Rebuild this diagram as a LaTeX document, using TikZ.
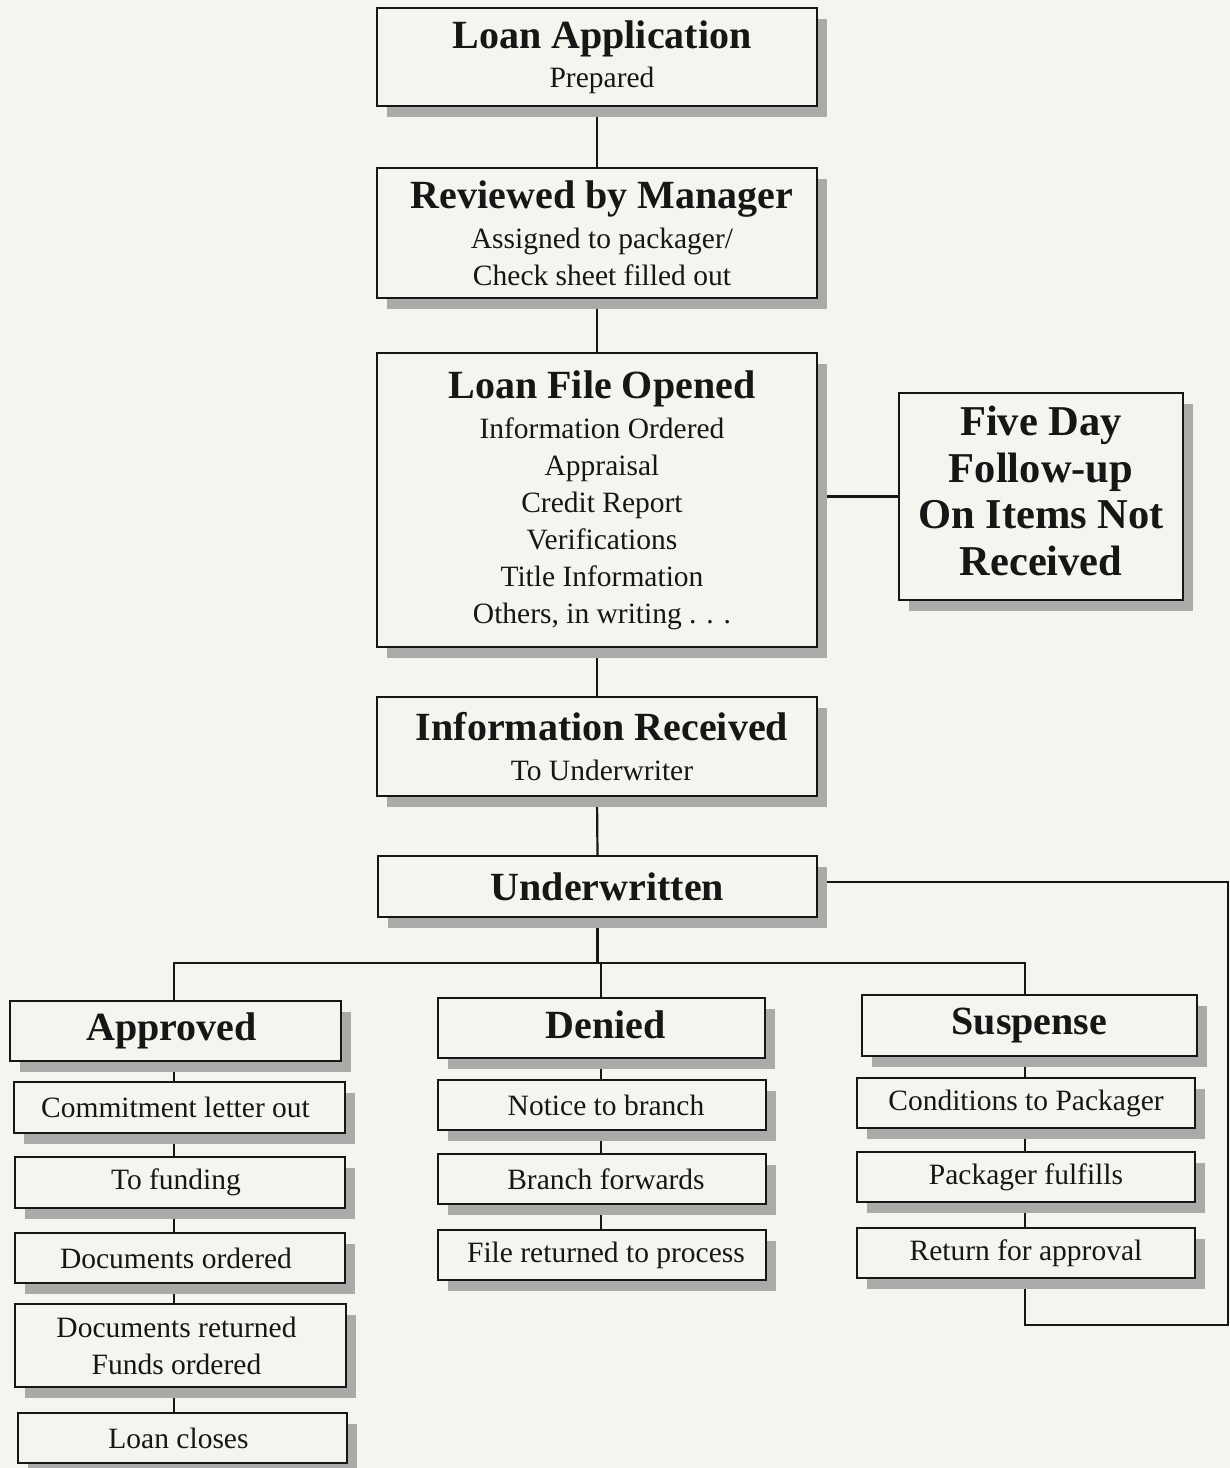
\documentclass[tikz,border=0pt]{standalone}
\usepackage{fontspec}
\setmainfont{Liberation Serif}
\usetikzlibrary{shadows}
\definecolor{bgc}{RGB}{246,244,238}
\definecolor{shd}{RGB}{170,170,168}
\definecolor{ink}{RGB}{22,22,22}
\newcommand\hdfont{\fontsize{40}{45}\selectfont\bfseries}
\newcommand\bdfont{\fontsize{29.5}{37}\selectfont}
\newcommand\rs{\hspace*{10pt}}
\newcommand\ls{\hspace*{8pt}}
\pgfdeclarelayer{paper}
\pgfdeclarelayer{lines}
\pgfsetlayers{paper,lines,main}
\begin{document}
\begin{tikzpicture}[x=1pt,y=-1pt,
  box/.style={draw=ink, line width=2.3pt, fill=bgc, inner sep=0pt, align=center,
    font=\bdfont, text=ink,
    drop shadow={shadow xshift=10pt, shadow yshift=-11pt, fill=shd, opacity=1, draw=none}},
  conn/.style={draw=ink, line width=2.2pt}]
\begin{pgfonlayer}{paper}
\fill[bgc] (0,0) rectangle (1230,1468);
\end{pgfonlayer}
\useasboundingbox (0,0) rectangle (1230,1468);

% main column
\node[box, minimum width=440pt, minimum height=98pt] (la) at (597,57)
  {\rs{\hdfont Loan Application}\\[2pt] \rs Prepared};
\node[box, minimum width=440pt, minimum height=130pt] (rm) at (597,233)
  {\rs{\hdfont Reviewed by Manager}\\[3pt] \rs Assigned to packager/\\ \rs Check sheet filled out};
\node[box, minimum width=440pt, minimum height=294pt] (lf) at (597,500)
  {\rs{\hdfont Loan File Opened}\\[3pt] \rs Information Ordered\\ \rs Appraisal\\ \rs Credit Report\\ \rs Verifications\\ \rs Title Information\\ \rs Others, in writing . . .};
\node[box, minimum width=284pt, minimum height=207pt, text depth=12pt,
      font=\fontsize{42.5}{46.5}\selectfont\bfseries] (fd) at (1041,496.5)
  {Five Day\\ Follow-up\\ On Items Not\\ Received};
\node[box, minimum width=440pt, minimum height=99pt] (ir) at (597,746.5)
  {\rs{\hdfont Information Received}\\[3pt] \rs To Underwriter};
\node[box, minimum width=439pt, minimum height=61pt, font=\hdfont] (uw) at (597.5,886.5)
  {\rs\rs Underwritten};

% branches
\node[box, minimum width=331pt, minimum height=60pt, font=\hdfont] (ap) at (175.5,1031) {Approved\ls};
\node[box, minimum width=327pt, minimum height=60pt, font=\hdfont, text depth=6pt] (dn) at (601.5,1028) {\ls Denied};
\node[box, minimum width=335pt, minimum height=61pt, font=\hdfont] (sp) at (1029.5,1025.5) {Suspense};

\node[box, minimum width=331pt, minimum height=51pt] (a1) at (179.5,1107.5) {Commitment letter out\ls};
\node[box, minimum width=330pt, minimum height=51pt] (a2) at (180,1182.5) {To funding\ls};
\node[box, minimum width=330pt, minimum height=50pt] (a3) at (180,1258) {Documents ordered\ls};
\node[box, minimum width=331pt, minimum height=83pt] (a4) at (180.5,1345.5) {Documents returned\ls\\ Funds ordered\ls};
\node[box, minimum width=329pt, minimum height=50pt] (a5) at (182.5,1438) {Loan closes\ls};

\node[box, minimum width=328pt, minimum height=50pt] (d1) at (602,1105) {\ls Notice to branch};
\node[box, minimum width=328pt, minimum height=50pt] (d2) at (602,1179) {\ls Branch forwards};
\node[box, minimum width=328pt, minimum height=50pt] (d3) at (602,1255) {\ls File returned to process};

\node[box, minimum width=338pt, minimum height=50pt] (s1) at (1026,1103) {Conditions to Packager};
\node[box, minimum width=338pt, minimum height=50pt] (s2) at (1026,1177) {Packager fulfills};
\node[box, minimum width=338pt, minimum height=50pt] (s3) at (1026,1253) {Return for approval};

% coordinates
\coordinate (bus) at (0,963);
\coordinate (ax) at (174,0);
\coordinate (dx) at (601,0);
\coordinate (sx) at (1025,0);
\coordinate (rt) at (1228,1325);

% connectors
\begin{pgfonlayer}{lines}
\draw[conn] (la.south) -- (rm.north);
\draw[conn] (rm.south) -- (lf.north);
\draw[conn] (lf.south) -- (ir.north);
\draw[conn] (ir.south) -- (uw.north);
\draw[conn] (fd.west) -- (fd.west -| lf.east);
\draw[conn] (uw.south) -- (uw.south |- bus);
\draw[conn] (ax |- ap.north) -- (ax |- bus) -- (sx |- bus) -- (sx |- sp.north);
\draw[conn] (dx |- bus) -- (dx |- dn.north);
\draw[conn] (ax |- ap.south) -- (ax |- a1.north);
\draw[conn] (ax |- a1.south) -- (ax |- a2.north);
\draw[conn] (ax |- a2.south) -- (ax |- a3.north);
\draw[conn] (ax |- a3.south) -- (ax |- a4.north);
\draw[conn] (ax |- a4.south) -- (ax |- a5.north);
\draw[conn] (dx |- dn.south) -- (dx |- d1.north);
\draw[conn] (dx |- d1.south) -- (dx |- d2.north);
\draw[conn] (dx |- d2.south) -- (dx |- d3.north);
\draw[conn] (sx |- sp.south) -- (sx |- s1.north);
\draw[conn] (sx |- s1.south) -- (sx |- s2.north);
\draw[conn] (sx |- s2.south) -- (sx |- s3.north);
\draw[conn] ([yshift=4.5pt]uw.east) -| (rt) -- (rt -| sx) -- (sx |- s3.south);
\end{pgfonlayer}
\end{tikzpicture}
\end{document}
